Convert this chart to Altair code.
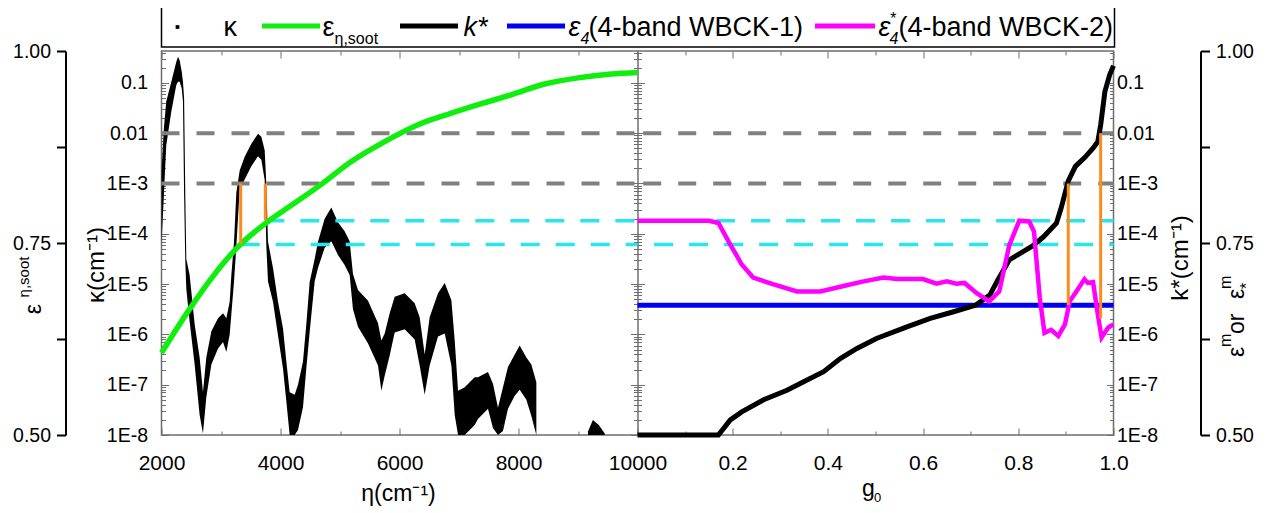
import altair as alt
import pandas as pd

FONT = "Liberation Sans, Arial, sans-serif"
W, H = 952, 384

# ---------------- values ----------------
# kappa (black scatter cloud): lower / upper envelope, log10(kappa / cm^-1)
kap_eta = [2000, 2040, 2080, 2165, 2249, 2277, 2305, 2340, 2361, 2380, 2400, 2417, 2473, 2557,
           2641, 2697, 2753, 2838, 2950, 3034, 3090, 3146, 3174, 3219, 3258, 3314, 3398, 3510,
           3622, 3678, 3734, 3762, 3790, 3874, 3958, 4042, 4098, 4154, 4238, 4294, 4378, 4434,
           4490, 4574, 4630, 4742, 4854, 4966, 5078, 5162, 5218, 5302, 5471, 5639, 5695, 5751,
           5835, 5919, 6087, 6255, 6339, 6423, 6507, 6647, 6760, 6872, 6928, 6984, 7096, 7264,
           7319, 7487, 7571, 7655, 7739, 7823, 7936, 8020, 8132, 8216, 8300,
           9168, 9250, 9350, 9449]
kap_lo = [-4.22, -3.23, -2.24, -1.57, -1.04, -0.98, -0.98, -1.11, -1.37, -3.23, -4.55, -5.10, -5.75, -6.60,
          -7.60, -7.97, -7.25, -6.60, -6.28, -6.15, -6.35, -6.00, -5.60, -4.95, -4.25, -3.12, -2.92, -2.66,
          -2.46, -2.53, -2.93, -4.25, -4.95, -5.35, -6.02, -6.68, -7.33, -8.00, -8.00, -7.90, -7.45, -6.68,
          -5.95, -4.95, -4.68, -4.28, -4.15, -4.42, -4.62, -4.82, -5.50, -5.85, -6.18, -6.62, -7.12, -6.82,
          -6.42, -5.96, -5.90, -6.10, -6.62, -7.20, -6.62, -6.04, -5.98, -6.62, -7.60, -8.00, -8.00, -7.80,
          -7.68, -7.48, -7.86, -8.00, -7.92, -7.48, -7.22, -7.10, -7.30, -7.62, -8.00,
          -8.00, -8.00, -8.00, -8.00]
kap_hi = [-2.77, -1.90, -1.37, -0.98, -0.58, -0.48, -0.55, -0.78, -0.98, -1.31, -3.23, -4.50, -4.82, -5.80,
          -6.46, -7.15, -6.46, -5.94, -5.68, -5.58, -5.68, -5.35, -4.82, -4.16, -3.18, -2.74, -2.47, -2.21,
          -2.01, -2.07, -2.34, -3.00, -4.16, -4.68, -5.35, -5.88, -6.54, -7.15, -7.20, -7.00, -6.54, -5.80,
          -4.96, -4.50, -4.16, -3.70, -3.48, -3.77, -3.95, -4.15, -4.80, -5.12, -5.33, -5.78, -6.12, -5.98,
          -5.58, -5.25, -5.18, -5.38, -5.66, -6.40, -5.66, -5.18, -4.98, -5.32, -6.12, -7.12, -7.05, -6.85,
          -6.85, -6.75, -6.98, -7.46, -7.05, -6.65, -6.40, -6.22, -6.46, -6.60, -6.95,
          -7.93, -7.70, -7.80, -7.97]
kap_seg = [0] * 81 + [1] * 4

# spectral soot emissivity (green)
soot_eta = [2000, 2446, 2838, 3286, 3790, 4182, 4714, 5190, 5751, 6311, 6872, 7404, 7880, 8440, 9000, 9560, 10000]
soot_eps = [0.607, 0.661, 0.704, 0.745, 0.778, 0.799, 0.828, 0.856, 0.882, 0.904, 0.919, 0.932, 0.943, 0.957, 0.965, 0.970, 0.972]

# k* versus g0 (black), log10
kstar_g0 = [0.0, 0.17, 0.195, 0.219, 0.265, 0.314, 0.349, 0.391, 0.426, 0.461, 0.502, 0.566, 0.615, 0.664,
            0.71, 0.74, 0.757, 0.781, 0.83, 0.853, 0.880, 0.890, 0.905, 0.92, 0.94, 0.957, 0.967, 0.973,
            0.982, 0.992, 1.0]
kstar_log = [-8.0, -8.0, -7.70, -7.54, -7.30, -7.11, -6.94, -6.74, -6.48, -6.28, -6.08, -5.85, -5.68, -5.55,
             -5.42, -5.22, -4.92, -4.52, -4.24, -4.06, -3.79, -3.49, -2.95, -2.66, -2.48, -2.30, -2.17, -1.84,
             -1.17, -0.84, -0.66]

# 4-band WBCK-1 (blue)
eps4_g0 = [0.0, 1.0]
eps4_val = [0.669, 0.669]

# 4-band WBCK-2 (magenta)
eps4s_g0 = [0.0, 0.15, 0.17, 0.195, 0.219, 0.243, 0.286, 0.335, 0.384, 0.433, 0.475, 0.517, 0.545, 0.60,
            0.628, 0.65, 0.670, 0.687, 0.712, 0.739, 0.760, 0.781, 0.802, 0.823, 0.833, 0.845, 0.855, 0.869,
            0.884, 0.898, 0.908, 0.922, 0.939, 0.946, 0.957, 0.968, 0.975, 0.989, 1.0]
eps4s_val = [0.779, 0.779, 0.776, 0.748, 0.722, 0.705, 0.696, 0.687, 0.687, 0.694, 0.700, 0.705, 0.703, 0.703,
             0.697, 0.700, 0.697, 0.698, 0.685, 0.674, 0.687, 0.747, 0.779, 0.778, 0.765, 0.679, 0.633, 0.637,
             0.629, 0.644, 0.674, 0.687, 0.703, 0.698, 0.699, 0.653, 0.627, 0.640, 0.644]

# reference levels
gray_levels = [1e-2, 1e-3]
gray_eta_span = [2000, 10000]
gray_g0_span = [0.012, 1.0]
cyan_levels = [0.779, 0.748]
cyan_start_eta = [3745, 3331]
cyan_start_g0 = [0.018, 0.035]

orange_eta = [3331, 3745]
orange_eta_top = [1e-3, 1e-3]
orange_eta_bot = [6.2e-5, 1.85e-4]
orange_g0 = [0.905, 0.973]
orange_g0_top = [1e-3, 1e-2]
orange_g0_bot = [3.84e-6, 2.09e-6]

KMIN, KMAX = 1e-8, 0.43


# ---------------- tables ----------------
def u_eta(e):
    return (e - 2000) / 8000.0


def u_g(g):
    return 1.0 + g


band = pd.DataFrame({"u": [u_eta(e) for e in kap_eta],
                     "lo": [10 ** v for v in kap_lo],
                     "hi": [10 ** v for v in kap_hi],
                     "seg": kap_seg})
soot = pd.DataFrame({"u": [u_eta(e) for e in soot_eta], "e": soot_eps})
kstar = pd.DataFrame({"u": [u_g(g) for g in kstar_g0], "k": [10 ** v for v in kstar_log]})
eps4 = pd.DataFrame({"u": [u_g(g) for g in eps4_g0], "e": eps4_val})
eps4s = pd.DataFrame({"u": [u_g(g) for g in eps4s_g0], "e": eps4s_val})

grows = []
for i, lv in enumerate(gray_levels):
    grows += [{"u": u_eta(gray_eta_span[0]), "k": lv, "seg": f"L{i}"},
              {"u": u_eta(gray_eta_span[1]), "k": lv, "seg": f"L{i}"},
              {"u": u_g(gray_g0_span[0]), "k": lv, "seg": f"R{i}"},
              {"u": u_g(gray_g0_span[1]), "k": lv, "seg": f"R{i}"}]
gray = pd.DataFrame(grows)

crows = []
for i, lv in enumerate(cyan_levels):
    crows += [{"u": u_eta(cyan_start_eta[i]), "e": lv, "seg": f"L{i}"},
              {"u": u_eta(10000), "e": lv, "seg": f"L{i}"},
              {"u": u_g(cyan_start_g0[i]), "e": lv, "seg": f"R{i}"},
              {"u": u_g(1.0), "e": lv, "seg": f"R{i}"}]
cyan = pd.DataFrame(crows)

orange = pd.DataFrame({"u": [u_eta(e) for e in orange_eta] + [u_g(g) for g in orange_g0],
                       "top": orange_eta_top + orange_g0_top,
                       "bot": orange_eta_bot + orange_g0_bot})

one = pd.DataFrame({"a": [0]})

# ---------------- scales & axes ----------------
XS = alt.Scale(domain=[0, 2], nice=False, zero=False)
KS = alt.Scale(type="log", domain=[KMIN, KMAX], nice=False)
ES = alt.Scale(domain=[0.5, 1.0], nice=False, zero=False)

log_ticks = [m * 10.0 ** e for e in range(-8, -1) for m in range(1, 10)] + [0.1, 0.2, 0.3, 0.4]
MAJ = "abs(log(datum.value)/LN10 - round(log(datum.value)/LN10)) < 0.001"
KLAB = ("abs(log(datum.value)/LN10 - round(log(datum.value)/LN10)) > 0.001 ? '' : "
        "datum.value > 0.05 ? '0.1' : datum.value > 0.005 ? '0.01' : '1E' + round(log(datum.value)/LN10)")
ktick = {"condition": {"test": MAJ, "value": 7}, "value": 4}

XMAJ = [0, 0.25, 0.5, 0.75, 1, 1.2, 1.4, 1.6, 1.8, 2]
XALL = [0, 0.125, 0.25, 0.375, 0.5, 0.625, 0.75, 0.875, 1, 1.1, 1.2, 1.3, 1.4, 1.5, 1.6, 1.7, 1.8, 1.9, 2]
XTEST = "indexof([0,0.25,0.5,0.75,1,1.2,1.4,1.6,1.8,2], datum.value) >= 0"
xtick = {"condition": {"test": XTEST, "value": 7}, "value": 4}

LAB = dict(labelFont=FONT, labelFontSize=19.5, labelColor="black", labelOverlap=False, labelFlush=False,
           grid=False, title="")
TK = dict(labels=False, ticks=True, tickColor="#6e6e6e", tickWidth=1, grid=False, title="")


def xenc(axis=None):
    if axis is None:
        return alt.X("u:Q", scale=XS, axis=None)
    return alt.X("u:Q", scale=XS, axis=axis)


def kaxis_layer(axis):
    d = pd.DataFrame({"u": [0.5], "k": [1e-4]})
    return alt.Chart(d).mark_point(opacity=0).encode(x=xenc(), y=alt.Y("k:Q", scale=KS, axis=axis))


def xaxis_layer(axis):
    d = pd.DataFrame({"u": [0.5]})
    return alt.Chart(d).mark_point(opacity=0).encode(x=xenc(axis))


layers = []

# kappa band
layers.append(alt.Chart(band).mark_area(color="black", opacity=1, interpolate="linear").encode(
    x=xenc(), y=alt.Y("lo:Q", scale=KS, axis=None), y2="hi:Q", detail="seg:N"))

# kappa / k* axes (labels left & right, inward ticks on frame and panel junction)
layers.append(kaxis_layer(alt.Axis(orient="left", values=log_ticks, labelExpr=KLAB, ticks=False, tickSize=0,
                                   domain=False, labelPadding=14, **LAB)))
layers.append(kaxis_layer(alt.Axis(orient="right", offset=-W, values=log_ticks, tickSize=ktick, domain=False, **TK)))
layers.append(kaxis_layer(alt.Axis(orient="left", offset=-W / 2, values=log_ticks, tickSize=ktick, domain=True,
                                   domainColor="#6e6e6e", domainWidth=1.5, **TK)))
layers.append(kaxis_layer(alt.Axis(orient="right", offset=-W / 2, values=log_ticks, tickSize=ktick, domain=False, **TK)))
layers.append(kaxis_layer(alt.Axis(orient="left", offset=-W, values=log_ticks, tickSize=ktick, domain=False, **TK)))

# gray dashed (kappa = 0.01, 1E-3)
layers.append(alt.Chart(gray).mark_line(color="#808080", strokeWidth=4, strokeDash=[18, 17]).encode(
    x=xenc(), y=alt.Y("k:Q", scale=KS, axis=None), detail="seg:N"))

EPS_AX = dict(values=[0.5, 0.625, 0.75, 0.875, 1.0],
              labelExpr="datum.value == 0.625 || datum.value == 0.875 ? '' : format(datum.value, '.2f')",
              tickSize=9, tickColor="black", tickWidth=2, domainColor="black", domainWidth=2, labelPadding=6)

# cyan dashed (emissivity levels) + left outer emissivity axis
layers.append(alt.Chart(cyan).mark_line(color="#26E6EE", strokeWidth=3.5, strokeDash=[19, 16]).encode(
    x=xenc(), detail="seg:N",
    y=alt.Y("e:Q", scale=ES, axis=alt.Axis(orient="left", offset=96, **EPS_AX, **LAB))))

# green soot emissivity
layers.append(alt.Chart(soot).mark_line(color="#10EE10", strokeWidth=5.5, interpolate="monotone").encode(
    x=xenc(), y=alt.Y("e:Q", scale=ES, axis=None)))

# blue eps_4 + right outer axis
layers.append(alt.Chart(eps4).mark_line(color="#0000F0", strokeWidth=5).encode(
    x=xenc(),
    y=alt.Y("e:Q", scale=ES, axis=alt.Axis(orient="right", offset=87, **EPS_AX, **LAB))))

# black k* + right labels
layers.append(alt.Chart(kstar).mark_line(color="black", strokeWidth=5).encode(
    x=xenc(),
    y=alt.Y("k:Q", scale=KS, axis=alt.Axis(orient="right", values=log_ticks, labelExpr=KLAB, ticks=False,
                                             tickSize=0, domain=False, labelPadding=3, **LAB))))

# magenta eps*_4
layers.append(alt.Chart(eps4s).mark_line(color="#FF00FF", strokeWidth=4.5).encode(
    x=xenc(), y=alt.Y("e:Q", scale=ES, axis=None)))

# orange verticals
layers.append(alt.Chart(orange).mark_rule(color="#FF8C1A", strokeWidth=3).encode(
    x=xenc(), y=alt.Y("top:Q", scale=KS, axis=None), y2="bot:Q"))

# x axes: labels, inward ticks at bottom and top
XLAB = dict(LAB)
XLAB["labelFontSize"] = 21
layers.append(xaxis_layer(alt.Axis(orient="bottom", values=XMAJ, ticks=False, tickSize=0, domain=False,
                                   labelPadding=17,
                                   labelExpr="datum.value <= 1 ? format(2000 + 8000*datum.value, 'd') : format(datum.value - 1, '.1f')",
                                   **XLAB)))
layers.append(xaxis_layer(alt.Axis(orient="top", offset=-H, values=XALL, tickSize=xtick, domain=False, **TK)))
layers.append(xaxis_layer(alt.Axis(orient="bottom", offset=-H, values=XALL, tickSize=xtick, domain=False, **TK)))


def txt(text, x, y, size=22, angle=0, align="center", baseline="middle", style="normal"):
    return alt.Chart(one).mark_text(text=text, font=FONT, fontSize=size, angle=angle, align=align,
                                    baseline=baseline, fontStyle=style, color="black").encode(
        x=alt.value(x), y=alt.value(y))


# axis titles
layers.append(txt("κ(cm⁻¹)", -64.5, 214, size=24, angle=270))
layers.append(txt("ε", -128, 258, size=23, angle=270))
layers.append(txt("η,soot", -138, 226, size=15, angle=270))
layers.append(txt("k*(cm⁻¹)", 1019.5, 207, size=24, angle=270))
# right outer title, built bottom-to-top: eps_m or eps*_m
layers.append(txt("ε", 1075, 306, size=23, angle=270, align="left"))
layers.append(txt("m", 1064, 296, size=16, angle=270, align="left"))
layers.append(txt(" or ", 1075, 283, size=23, angle=270, align="left"))
layers.append(txt("ε", 1075, 248, size=23, angle=270, align="left"))
layers.append(txt("*", 1085, 238, size=16, angle=270, align="left"))
layers.append(txt("m", 1064, 238, size=16, angle=270, align="left"))
layers.append(txt("η(cm⁻¹)", 237, 443, size=23))
layers.append(txt("g", 707, 438, size=23))
layers.append(txt("0", 716, 447, size=13))

# legend
layers.append(alt.Chart(one).mark_rect(fill="white", stroke="black", strokeWidth=1.5).encode(
    x=alt.value(0), x2=alt.value(953), y=alt.value(-48), y2=alt.value(-4)))
layers.append(alt.Chart(one).mark_square(size=14, color="black", opacity=1).encode(
    x=alt.value(16), y=alt.value(-24)))
for (x0, x1, col) in [(100.5, 158.5, "#10EE10"), (238.5, 296.5, "black"), (345.5, 403.5, "#0000F0"),
                      (653.5, 713.5, "#FF00FF")]:
    layers.append(alt.Chart(one).mark_rule(color=col, strokeWidth=5).encode(
        x=alt.value(x0), x2=alt.value(x1), y=alt.value(-25)))
LB = -15
layers.append(txt("κ", 62, LB, size=27, align="left", baseline="alphabetic"))
layers.append(txt("ε", 161, LB, size=27, align="left", baseline="alphabetic"))
layers.append(txt("η,soot", 173, -7, size=16, align="left", baseline="alphabetic"))
layers.append(txt("k*", 302, LB, size=27, align="left", baseline="alphabetic", style="italic"))
layers.append(txt("ε", 407, LB, size=27, align="left", baseline="alphabetic", style="italic"))
layers.append(txt("4", 419, -7, size=16, align="left", baseline="alphabetic", style="italic"))
layers.append(txt("(4-band WBCK-1)", 427, LB, size=27, align="left", baseline="alphabetic"))
layers.append(txt("ε", 717, LB, size=27, align="left", baseline="alphabetic", style="italic"))
layers.append(txt("*", 728, -27, size=16, align="left", baseline="alphabetic", style="italic"))
layers.append(txt("4", 728, -7, size=16, align="left", baseline="alphabetic", style="italic"))
layers.append(txt("(4-band WBCK-2)", 737, LB, size=27, align="left", baseline="alphabetic"))

chart = alt.layer(*layers).resolve_scale(y="independent").resolve_axis(x="independent", y="independent").properties(
    width=W, height=H,
    padding={"left": 153.5, "top": 43, "right": 146, "bottom": 76},
    autosize=alt.AutoSizeParams(type="none"),
).configure_view(stroke="#6e6e6e", strokeWidth=1.5)

chart.save("out.html", embed_options={"renderer": "svg", "actions": False})
